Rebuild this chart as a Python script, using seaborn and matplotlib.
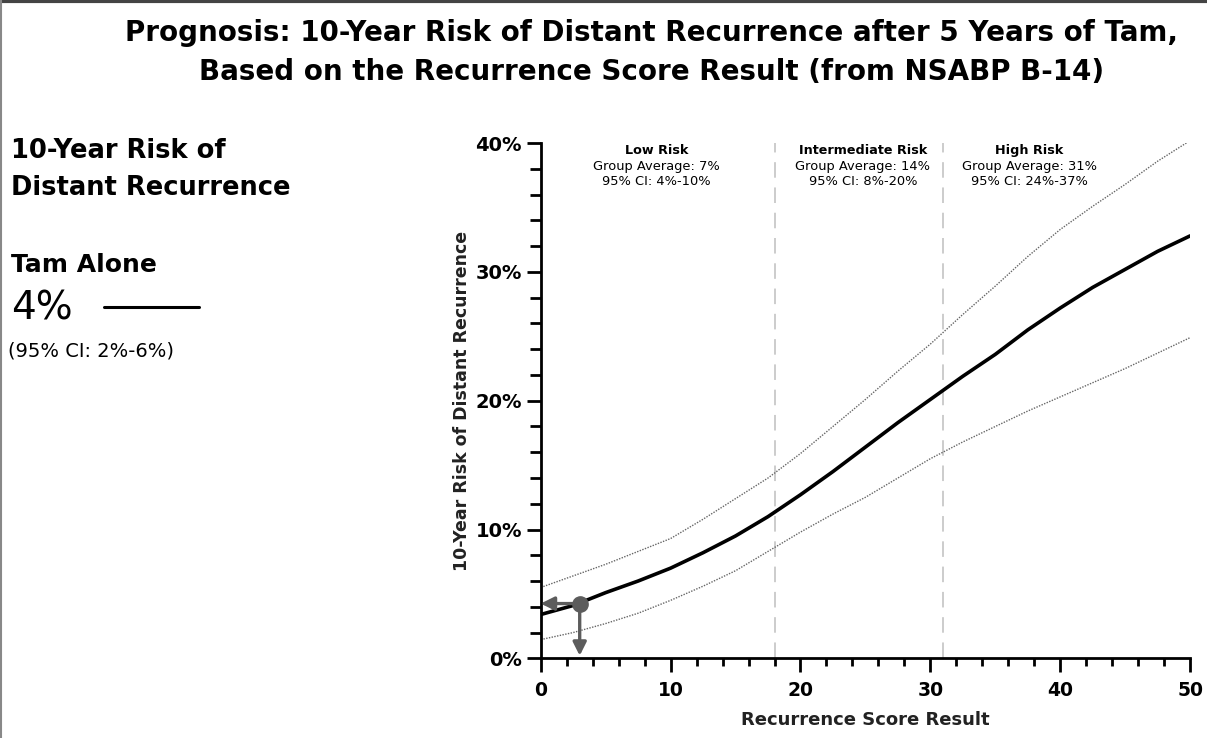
import numpy as np
import pandas as pd
import matplotlib
matplotlib.use('Agg')
import matplotlib.pyplot as plt
from matplotlib.lines import Line2D
from matplotlib.ticker import MultipleLocator, FuncFormatter
import seaborn as sns

# values (percent)
score = [0, 2.5, 5, 7.5, 10, 12.5, 15, 17.5, 20, 22.5, 25, 27.5, 30,
         32.5, 35, 37.5, 40, 42.5, 45, 47.5, 50]
risk = [3.4, 4.1, 5.1, 6.0, 7.0, 8.2, 9.5, 11.0, 12.7, 14.5, 16.4, 18.3, 20.1,
        21.9, 23.6, 25.5, 27.2, 28.8, 30.2, 31.6, 32.8]
ci_upper = [5.5, 6.4, 7.3, 8.3, 9.3, 10.8, 12.4, 14.0, 15.9, 18.0, 20.1, 22.3, 24.4,
            26.7, 28.9, 31.2, 33.3, 35.1, 36.8, 38.6, 40.2]
ci_lower = [1.45, 2.0, 2.7, 3.5, 4.5, 5.6, 6.8, 8.3, 9.8, 11.2, 12.5, 14.0, 15.5,
            16.8, 18.0, 19.2, 20.3, 21.4, 22.5, 23.7, 24.9]

cutoffs = [18, 31]
groups = ['Low Risk', 'Intermediate Risk', 'High Risk']
group_x = [8.9, 24.8, 37.6]
group_avg = ['Group Average: 7%', 'Group Average: 14%', 'Group Average: 31%']
group_ci = ['95% CI: 4%-10%', '95% CI: 8%-20%', '95% CI: 24%-37%']

patient_score = 3
patient_risk = 4.25

df = pd.DataFrame({'score': score, 'risk': risk, 'upper': ci_upper, 'lower': ci_lower})

sns.set_style('ticks')
plt.rcParams['font.family'] = ['DejaVu Sans']
plt.rcParams.update({'text.color': 'black', 'axes.labelcolor': 'black',
                     'xtick.color': 'black', 'ytick.color': 'black',
                     'axes.edgecolor': 'black'})

fig = plt.figure(figsize=(12.07, 7.38), dpi=100)
ax = fig.add_axes([0.448, 0.108, 0.538, 0.698])

for col in ['upper', 'lower']:
    sns.lineplot(data=df, x='score', y=col, ax=ax, color='#666666',
                 linestyle=(0, (1, 1)), linewidth=1.0)
sns.lineplot(data=df, x='score', y='risk', ax=ax, color='black', linewidth=2.6)

for c in cutoffs:
    ax.axvline(c, color='#cccccc', linestyle=(0, (8, 5)), linewidth=1.4, zorder=0)

# patient marker with arrows to the axes
arrow_col = '#5c5c5c'
ax.annotate('', xy=(0, patient_risk), xytext=(patient_score, patient_risk),
            arrowprops=dict(arrowstyle='-|>', color=arrow_col, lw=2.4,
                            mutation_scale=20, shrinkA=0, shrinkB=0))
ax.annotate('', xy=(patient_score, 0.2), xytext=(patient_score, patient_risk),
            arrowprops=dict(arrowstyle='-|>', color=arrow_col, lw=2.4,
                            mutation_scale=20, shrinkA=0, shrinkB=0))
ax.plot([patient_score], [patient_risk], 'o', color=arrow_col, markersize=11, zorder=5)

for gx, name, avg, ci in zip(group_x, groups, group_avg, group_ci):
    ax.text(gx, 39.4, name, ha='center', va='center', fontsize=9.2, fontweight='bold')
    ax.text(gx, 38.2, avg, ha='center', va='center', fontsize=9.4)
    ax.text(gx, 37.0, ci, ha='center', va='center', fontsize=9.4)

ax.set_xlim(0, 50)
ax.set_ylim(0, 40)
ax.xaxis.set_major_locator(MultipleLocator(10))
ax.xaxis.set_minor_locator(MultipleLocator(2))
ax.yaxis.set_major_locator(MultipleLocator(10))
ax.yaxis.set_minor_locator(MultipleLocator(2))
ax.yaxis.set_major_formatter(FuncFormatter(lambda v, p: f'{v:.0f}%'))
ax.tick_params(axis='both', which='major', width=2, length=10, direction='out')
ax.tick_params(axis='y', which='major', labelsize=14)
ax.tick_params(axis='x', which='major', labelsize=13.5, pad=6)
ax.tick_params(axis='y', which='minor', width=2, length=8, direction='out')
ax.tick_params(axis='x', which='minor', width=2, length=6, direction='out')
for lab in ax.get_xticklabels() + ax.get_yticklabels():
    lab.set_fontweight('bold')
for s in ['left', 'bottom']:
    ax.spines[s].set_linewidth(2)
sns.despine(ax=ax)
ax.set_xlabel('Recurrence Score Result', fontsize=13, fontweight='bold',
              color='#222222', labelpad=8)
ax.set_ylabel('10-Year Risk of Distant Recurrence', fontsize=12.5, fontweight='bold',
              color='#222222', labelpad=3)

fig.text(0.54, 0.955, 'Prognosis: 10-Year Risk of Distant Recurrence after 5 Years of Tam,',
         ha='center', va='center', fontsize=20, fontweight='bold')
fig.text(0.54, 0.902, 'Based on the Recurrence Score Result (from NSABP B-14)',
         ha='center', va='center', fontsize=20, fontweight='bold')

fig.text(0.009, 0.795, '10-Year Risk of', ha='left', va='center', fontsize=18.5, fontweight='bold')
fig.text(0.009, 0.745, 'Distant Recurrence', ha='left', va='center', fontsize=18.5, fontweight='bold')
fig.text(0.009, 0.641, 'Tam Alone', ha='left', va='center', fontsize=18, fontweight='bold')
fig.text(0.009, 0.582, '4%', ha='left', va='center', fontsize=28)
fig.text(0.007, 0.525, '(95% CI: 2%-6%)', ha='left', va='center', fontsize=14)
fig.add_artist(Line2D([0.086, 0.165], [0.584, 0.584], color='black', linewidth=2.2))

# frame edges of the original panel
fig.add_artist(Line2D([0, 1], [0.998, 0.998], color='#444444', linewidth=3))
fig.add_artist(Line2D([0.001, 0.001], [0, 1], color='#888888', linewidth=1.5))

fig.savefig('out.png', dpi=100)
